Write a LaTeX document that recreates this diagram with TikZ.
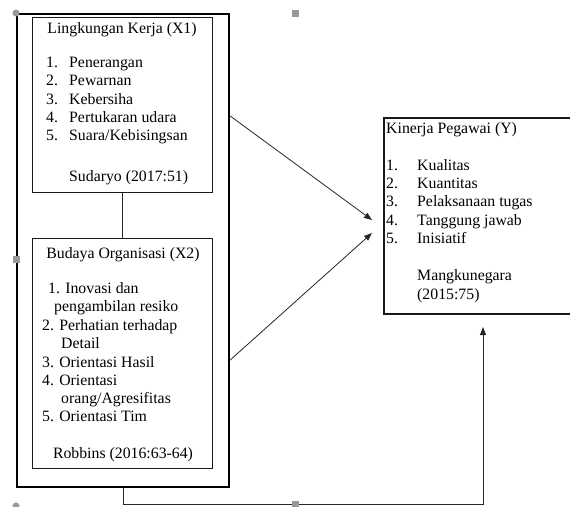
\documentclass[tikz,border=0pt]{standalone}
\usepackage{fontspec}
\setmainfont{Liberation Serif}
\usetikzlibrary{arrows.meta}
\begin{document}
\begin{tikzpicture}[x=1pt,y=-1pt,
  box/.style={draw=black!90, line width=1.4pt, inner sep=0pt, anchor=north west},
  outerbox/.style={draw=black, line width=2.2pt, inner sep=0pt, anchor=north west},
  txt/.style={anchor=base west, inner sep=0pt, font=\fontsize{15.8}{18}\selectfont},
  ctxt/.style={anchor=base, inner sep=0pt, font=\fontsize{15.8}{18}\selectfont},
  arr/.style={draw=black!85, line width=0.8pt, -{Triangle[length=8pt,width=6pt]}},
  conn/.style={draw=black!85, line width=0.9pt},
  handle/.style={fill=black!40, draw=none}]
\clip (0,0) rectangle (570,506);
\fill[white] (0,0) rectangle (570,506);

% boxes
\node[outerbox, minimum width=212pt, minimum height=473pt] (outer) at (16,13) {};
\node[box, minimum width=180pt, minimum height=175pt] (b1) at (32,17) {};
\node[box, minimum width=180pt, minimum height=230pt] (b2) at (32,238) {};
\node[box, line width=1.8pt, minimum width=195pt, minimum height=196pt] (k) at (383,117) {};

% box 1 text
\node[ctxt] (t1) at (122,33) {Lingkungan Kerja (X1)};
\node[txt] (n11) at (46,67) {1.}; \node[txt] (i11) at (69,67) {Penerangan};
\node[txt] (n12) at (46,85.5) {2.}; \node[txt] (i12) at (69,85.5) {Pewarnan};
\node[txt] (n13) at (46,104) {3.}; \node[txt] (i13) at (69,104) {Kebersiha};
\node[txt] (n14) at (46,122) {4.}; \node[txt] (i14) at (69,122) {Pertukaran udara};
\node[txt] (n15) at (46,140.5) {5.}; \node[txt] (i15) at (69,140.5) {Suara/Kebisingsan};
\node[txt] (s1) at (69,181) {Sudaryo (2017:51)};

% box 2 text
\node[ctxt] (t2) at (123,258) {Budaya Organisasi (X2)};
\node[txt] (i21) at (48,293) {1. Inovasi dan};
\node[txt] (i21b) at (54,311) {pengambilan resiko};
\node[txt] (i22) at (42,330) {2. Perhatian terhadap};
\node[txt] (i22b) at (61,348) {Detail};
\node[txt] (i23) at (42,367) {3. Orientasi Hasil};
\node[txt] (i24) at (42,385) {4. Orientasi};
\node[txt] (i24b) at (61,403) {orang/Agresifitas};
\node[txt] (i25) at (42,421) {5. Orientasi Tim};
\node[ctxt] (s2) at (123,458) {Robbins (2016:63-64)};

% Kinerja text
\node[txt] (t3) at (386,133) {Kinerja Pegawai (Y)};
\node[txt] (n31) at (386,170) {1.}; \node[txt] (i31) at (417,170) {Kualitas};
\node[txt] (n32) at (386,188.3) {2.}; \node[txt] (i32) at (417,188.3) {Kuantitas};
\node[txt] (n33) at (386,206.6) {3.}; \node[txt] (i33) at (417,206.6) {Pelaksanaan tugas};
\node[txt] (n34) at (386,225) {4.}; \node[txt] (i34) at (417,225) {Tanggung jawab};
\node[txt] (n35) at (386,243) {5.}; \node[txt] (i35) at (417,243) {Inisiatif};
\node[txt] (s3) at (417,280) {Mangkunegara};
\node[txt] (s3b) at (417,299) {(2015:75)};

% connectors
\coordinate (tip1) at (372,220);
\coordinate (tip2) at (372,233);
\coordinate (bend) at (483,504);
\coordinate (tip3) at (483,327);
\draw[conn] (b1.south) -- (b2.north);
\draw[arr] (outer.east |- 0,116) -- (tip1);
\draw[arr] (outer.east |- 0,360) -- (tip2);
\draw[arr] (outer.south) |- (bend) -- (tip3);

% selection handles
\fill[handle] (16,13) circle (3.5pt);
\fill[handle] (291.5,9.5) rectangle (298.5,16.5);
\fill[handle] (12.5,255.5) rectangle (19.5,262.5);
\fill[handle] (16,506) circle (3.5pt);
\fill[handle] (291.5,500.5) rectangle (298.5,507.5);
\end{tikzpicture}
\end{document}
